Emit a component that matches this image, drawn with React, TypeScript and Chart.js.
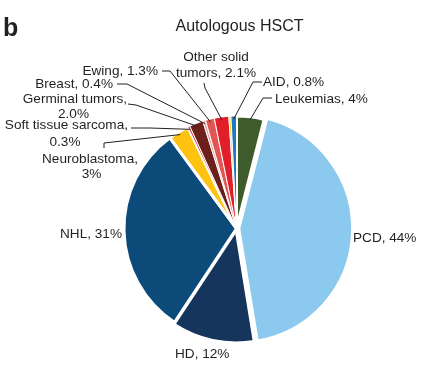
import React, { useEffect, useRef } from "react";
import { Chart, ArcElement, PieController } from "chart.js";

Chart.register(ArcElement, PieController);

// ---- data ----
const categories = [
  "Leukemias",
  "PCD",
  "HD",
  "NHL",
  "Neuroblastoma",
  "Soft tissue sarcoma",
  "Germinal tumors",
  "Breast",
  "Ewing",
  "Other solid tumors",
  "Unlabeled",
  "AID",
];
const values = [4, 44, 12, 31, 3, 0.3, 2.0, 0.4, 1.3, 2.1, 0.3, 0.8];
const labelLines = [
  ["Leukemias, 4%"],
  ["PCD, 44%"],
  ["HD, 12%"],
  ["NHL, 31%"],
  ["Neuroblastoma,", "3%"],
  ["Soft tissue sarcoma,", "0.3%"],
  ["Germinal tumors,", "2.0%"],
  ["Breast, 0.4%"],
  ["Ewing, 1.3%"],
  ["Other solid", "tumors, 2.1%"],
  [],
  ["AID, 0.8%"],
];
const sliceColors = [
  "#3e5c2b",
  "#8cc9ee",
  "#15355d",
  "#0c4a7a",
  "#fdc310",
  "#e2272c",
  "#6c1f1b",
  "#e9a09c",
  "#df5653",
  "#e11f2b",
  "#f7d21a",
  "#1f79be",
];
const title = "Autologous HSCT";
const panelLetter = "b";

// ---- layout of labels (text positions & leader elbows) ----
type Pt = [number, number];
type Layout = {
  pos: { x: number; y: number; align: CanvasTextAlign }[];
  leader: Pt[] | null;
};
const labelLayout: Layout[] = [
  { pos: [{ x: 275, y: 102.5, align: "left" }], leader: [[272, 98], [263, 98]] },
  { pos: [{ x: 353, y: 241.5, align: "left" }], leader: null },
  { pos: [{ x: 175, y: 357.5, align: "left" }], leader: null },
  { pos: [{ x: 122, y: 237.5, align: "right" }], leader: null },
  {
    pos: [
      { x: 138, y: 162.5, align: "right" },
      { x: 91.5, y: 177.5, align: "center" },
    ],
    leader: [[104, 148], [104, 143]],
  },
  {
    pos: [
      { x: 128, y: 129, align: "right" },
      { x: 65, y: 146, align: "center" },
    ],
    leader: [[131, 128], [150, 128]],
  },
  {
    pos: [
      { x: 127, y: 103, align: "right" },
      { x: 73.5, y: 117.5, align: "center" },
    ],
    leader: [[128, 104], [136, 105]],
  },
  { pos: [{ x: 113, y: 88, align: "right" }], leader: [[117, 84], [127, 84]] },
  { pos: [{ x: 158, y: 75, align: "right" }], leader: [[162, 71], [170, 71]] },
  {
    pos: [
      { x: 216, y: 61, align: "center" },
      { x: 216, y: 77, align: "center" },
    ],
    leader: [[204, 83], [205, 88]],
  },
  { pos: [], leader: null },
  { pos: [{ x: 263, y: 86, align: "left" }], leader: [[262, 82], [253, 82]] },
];

const TEXT = "#231f20";
const FONT = '"Liberation Sans", Arial, Helvetica, sans-serif';

const labelPlugin = {
  id: "pieLabels",
  afterDatasetsDraw(chart: any) {
    const ctx: CanvasRenderingContext2D = chart.ctx;
    const meta = chart.getDatasetMeta(0);
    ctx.save();
    // panel letter & title
    ctx.fillStyle = TEXT;
    ctx.textAlign = "left";
    ctx.textBaseline = "alphabetic";
    ctx.font = `bold 25px ${FONT}`;
    ctx.fillText(panelLetter, 3, 36);
    ctx.font = `16px ${FONT}`;
    ctx.textAlign = "center";
    ctx.fillText(title, 239.5, 31);

    // leader lines
    ctx.strokeStyle = TEXT;
    ctx.lineWidth = 1;
    meta.data.forEach((el: any, i: number) => {
      const lay = labelLayout[i];
      if (!lay || !lay.leader) return;
      const { x, y, startAngle, endAngle, outerRadius } = el.getProps(
        ["x", "y", "startAngle", "endAngle", "outerRadius"],
        true
      );
      const mid = (startAngle + endAngle) / 2;
      const r = outerRadius - 3;
      const ex = x + Math.cos(mid) * r;
      const ey = y + Math.sin(mid) * r;
      ctx.beginPath();
      ctx.moveTo(lay.leader[0][0], lay.leader[0][1]);
      for (let k = 1; k < lay.leader.length; k++) ctx.lineTo(lay.leader[k][0], lay.leader[k][1]);
      ctx.lineTo(ex, ey);
      ctx.stroke();
    });

    // texts
    ctx.font = `13.6px ${FONT}`;
    ctx.fillStyle = TEXT;
    labelLines.forEach((lines, i) => {
      const lay = labelLayout[i];
      lines.forEach((t, k) => {
        const p = lay.pos[k];
        if (!p) return;
        ctx.textAlign = p.align;
        ctx.fillText(t, p.x, p.y);
      });
    });
    ctx.restore();
  },
};

export default function App() {
  const ref = useRef<HTMLCanvasElement | null>(null);
  useEffect(() => {
    if (!ref.current) return;
    const big = values.map((v) => v >= 3);
    const chart = new Chart(ref.current, {
      type: "pie",
      data: {
        labels: categories,
        datasets: [
          {
            data: values,
            backgroundColor: sliceColors,
            borderColor: "#ffffff",
            borderWidth: big.map((b) => (b ? 3 : 1)),
            offset: categories.map((c) => (c === "PCD" ? 9 : c === "HD" ? 6 : 0)),
          },
        ],
      },
      options: {
        responsive: false,
        animation: false,
        radius: 112.5,
        layout: { padding: { left: 121.5, right: 90.5, top: 113.5, bottom: 27.5 } },
        plugins: { legend: { display: false }, tooltip: { enabled: false } },
        events: [],
      } as any,
      plugins: [labelPlugin],
    });
    return () => chart.destroy();
  }, []);
  return (
    <div style={{ position: "fixed", left: 0, top: 0, width: 442, height: 371, background: "#fff" }}>
      <canvas ref={ref} width={442} height={371} style={{ display: "block" }} />
    </div>
  );
}
